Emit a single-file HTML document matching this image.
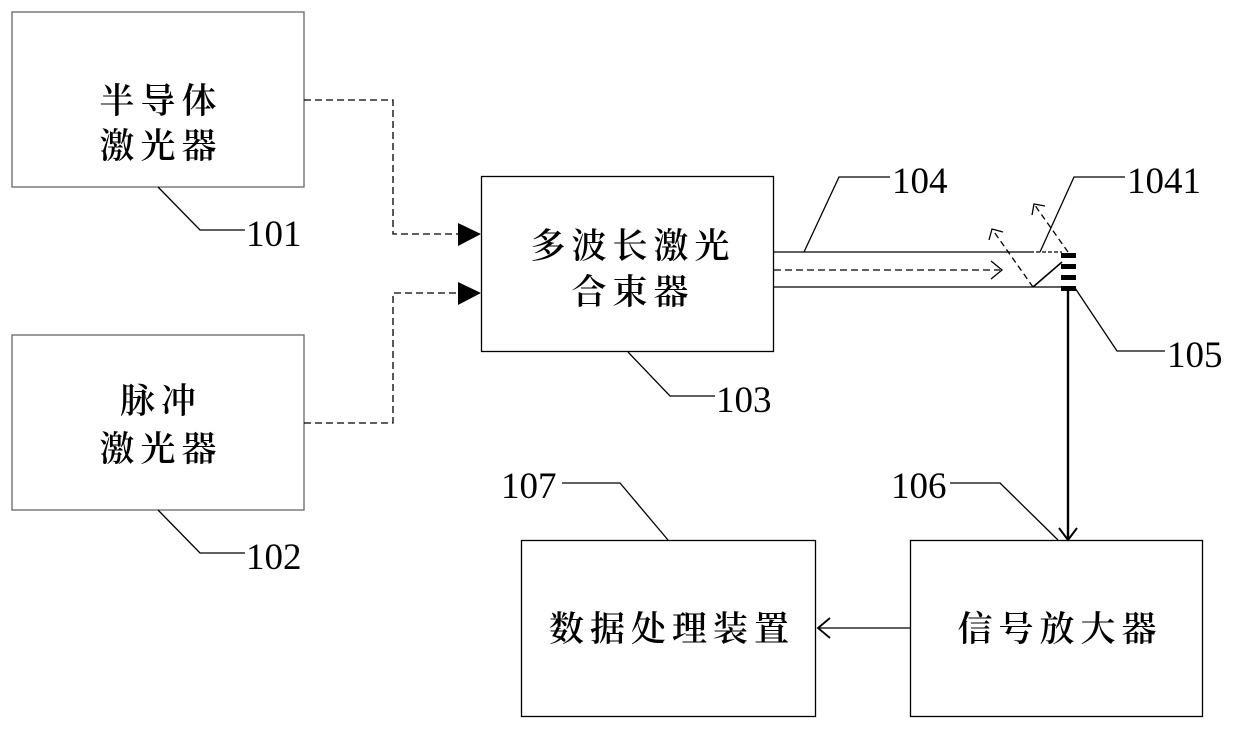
<!DOCTYPE html>
<html><head><meta charset="utf-8"><style>
body{margin:0;background:#fff;}
svg text{font-family:"Liberation Serif","Noto Serif CJK SC",serif;fill:#000;}
.cn{font-family:"Noto Serif CJK SC","Noto Sans CJK SC",serif;font-size:35px;letter-spacing:6px;font-weight:600;}
.num{font-size:37px;}
</style></head><body>
<svg width="1240" height="729" viewBox="0 0 1240 729" xmlns="http://www.w3.org/2000/svg">
<g fill="none" stroke="#000" stroke-width="1.3">
<rect x="12" y="12" width="292" height="175" stroke="#666"/>
<rect x="12" y="335" width="292" height="175" stroke="#666"/>
<rect x="481.5" y="176.5" width="292" height="175"/>
<rect x="521.5" y="540.5" width="294" height="176"/>
<rect x="910.5" y="540.5" width="292" height="176"/>
<polyline points="158,187 200,230 245,230"/>
<polyline points="158,510 200,553 245,553"/>
<polyline points="628,352 670,396 715,396"/>
<polyline points="562,483 620,483 668,540"/>
<polyline points="950,483 1000,483 1058,540"/>
<polyline points="804,252 839,177 890,177"/>
<polyline points="1040,252 1074,177 1125,177"/>
<polyline points="1075,288 1117,351 1165,351"/>
<polyline points="304,100 393,100 393,234 460,234" stroke-dasharray="7,4"/>
<polyline points="304,423 393,423 393,293 460,293" stroke-dasharray="7,4"/>
<line x1="774" y1="252" x2="1030" y2="252"/>
<line x1="1030" y1="252" x2="1062" y2="252" stroke-dasharray="4,2"/>
<line x1="774" y1="287" x2="1062" y2="287"/>
<line x1="774" y1="270" x2="1000" y2="270" stroke-dasharray="7,4"/>
<polyline points="991,261 1002,270 991,279"/>
<line x1="1033" y1="287" x2="992" y2="229" stroke-dasharray="6,4"/>
<polyline points="989,240 992,229 1003,232"/>
<line x1="1033" y1="287" x2="1062" y2="262" stroke-width="1.6"/>
<line x1="1068" y1="252" x2="1034" y2="204" stroke-dasharray="6,4"/>
<polyline points="1032,215 1034,204 1045,206"/>
<line x1="1068" y1="291" x2="1068" y2="540" stroke-width="2.4"/>
<polyline points="1059,528 1068,540 1077,528" stroke-width="2"/>
<line x1="910" y1="628" x2="818" y2="628"/>
<polyline points="830,618 818,628 830,638" stroke-width="1.8"/>
</g>
<g fill="#000">
<polygon points="458,223 481,234 458,246"/>
<polygon points="458,282 481,293 458,305"/>
<rect x="1061" y="253" width="15" height="5"/>
<rect x="1061" y="264" width="15" height="5"/>
<rect x="1061" y="275" width="15" height="5"/>
<rect x="1061" y="286" width="15" height="5"/>
</g>
<text class="cn" x="161" y="113" text-anchor="middle">半导体</text>
<text class="cn" x="161" y="158" text-anchor="middle">激光器</text>
<text class="cn" x="161" y="413" text-anchor="middle">脉冲</text>
<text class="cn" x="161" y="461" text-anchor="middle">激光器</text>
<text class="cn" x="633" y="258" text-anchor="middle">多波长激光</text>
<text class="cn" x="633" y="304" text-anchor="middle">合束器</text>
<text class="cn" x="672" y="641" text-anchor="middle">数据处理装置</text>
<text class="cn" x="1060" y="641" text-anchor="middle">信号放大器</text>
<text class="num" x="246" y="246">101</text>
<text class="num" x="246" y="569">102</text>
<text class="num" x="716" y="412">103</text>
<text class="num" x="892" y="193">104</text>
<text class="num" x="1127" y="193">1041</text>
<text class="num" x="1167" y="367">105</text>
<text class="num" x="891" y="498">106</text>
<text class="num" x="501" y="498">107</text>
</svg>
</body></html>
